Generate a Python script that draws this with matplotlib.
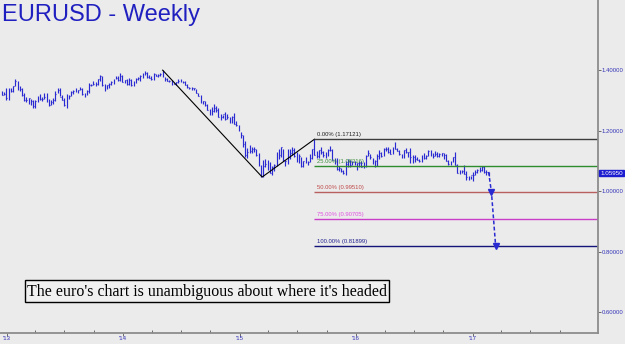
import matplotlib
matplotlib.use('Agg')
import matplotlib.pyplot as plt
import matplotlib.dates as mdates
import pandas as pd
from matplotlib.patches import Rectangle

# ---------------- data ----------------
first_week = '2012-12-17'
highs = [
    1.3300, 1.3260,
    1.3390, 1.3400, 1.3400, 1.3480, 1.3710, 1.3640, 1.3480, 1.3420, 1.3250, 1.3110, 1.3080, 1.3050, 1.3020,
    1.3000, 1.3140, 1.3200, 1.3100, 1.3240, 1.3240, 1.3030, 1.3000, 1.3060, 1.3310, 1.3390, 1.3420, 1.3170,
    1.3070, 1.3210, 1.3190, 1.3300, 1.3350, 1.3410, 1.3350, 1.3450, 1.3420, 1.3230, 1.3340, 1.3560, 1.3540,
    1.3620, 1.3610, 1.3700, 1.3830, 1.3810, 1.3530, 1.3500, 1.3580, 1.3620, 1.3710, 1.3810, 1.3810, 1.3890,
    1.3830,
    1.3680, 1.3700, 1.3740, 1.3700, 1.3620, 1.3720, 1.3770, 1.3830, 1.3910, 1.3970, 1.3950, 1.3840, 1.3810,
    1.3900, 1.3880, 1.3860, 1.3890, 1.3995, 1.3780, 1.3730, 1.3680, 1.3680, 1.3580, 1.3610, 1.3690, 1.3700,
    1.3640, 1.3630, 1.3530, 1.3450, 1.3440, 1.3420, 1.3370, 1.3240, 1.3160, 1.2990, 1.2990, 1.2860, 1.2720,
    1.2790, 1.2890, 1.2800, 1.2760, 1.2540, 1.2510, 1.2600, 1.2530, 1.2460, 1.2480, 1.2570, 1.2300, 1.2190,
    1.1960, 1.1840, 1.1640, 1.1420, 1.1530, 1.1460, 1.1450, 1.1390, 1.1240, 1.0870, 1.1040, 1.1050, 1.1040,
    1.0970, 1.0820, 1.0880, 1.1290, 1.1390, 1.1470, 1.1390, 1.1010, 1.1380, 1.1390, 1.1440, 1.1410, 1.1280,
    1.1210, 1.1120, 1.1000, 1.1130, 1.1000, 1.1210, 1.1390, 1.1712, 1.1330, 1.1370, 1.1460, 1.1330, 1.1290,
    1.1390, 1.1490, 1.1380, 1.1100, 1.1100, 1.0830, 1.0770, 1.0690, 1.0980, 1.1050, 1.1040, 1.0990, 1.0990,
    1.0930, 1.0990, 1.0990, 1.0960, 1.1200, 1.1370, 1.1230, 1.1080, 1.1010, 1.1210, 1.1340, 1.1290, 1.1410,
    1.1450, 1.1460, 1.1390, 1.1450, 1.1610, 1.1430, 1.1340, 1.1220, 1.1370, 1.1420, 1.1300, 1.1430, 1.1190,
    1.1180, 1.1120, 1.1060, 1.1200, 1.1240, 1.1180, 1.1370, 1.1350, 1.1260, 1.1330, 1.1280, 1.1260, 1.1260,
    1.1250, 1.1210, 1.1030, 1.0990, 1.1140, 1.1300, 1.0880, 1.0710, 1.0700, 1.0870, 1.0670, 1.0480, 1.0500,
    1.0630, 1.0680, 1.0720, 1.0780, 1.0830, 1.0830, 1.0680, 1.0630,
]
lows = [
    1.3160, 1.3160,
    1.3000, 1.3000, 1.3260, 1.3260, 1.3460, 1.3350, 1.3310, 1.3150, 1.2970, 1.2950, 1.2880, 1.2840, 1.2750,
    1.2745, 1.2950, 1.3000, 1.2960, 1.3030, 1.2950, 1.2800, 1.2830, 1.2880, 1.2980, 1.3250, 1.3130, 1.3000,
    1.2800, 1.2750, 1.3040, 1.3140, 1.3200, 1.3260, 1.3250, 1.3330, 1.3180, 1.3100, 1.3180, 1.3250, 1.3460,
    1.3490, 1.3480, 1.3490, 1.3650, 1.3480, 1.3300, 1.3370, 1.3400, 1.3520, 1.3540, 1.3700, 1.3630, 1.3650,
    1.3590,
    1.3570, 1.3520, 1.3520, 1.3480, 1.3480, 1.3570, 1.3680, 1.3640, 1.3730, 1.3840, 1.3750, 1.3720, 1.3670,
    1.3680, 1.3790, 1.3780, 1.3800, 1.3760, 1.3650, 1.3620, 1.3590, 1.3500, 1.3530, 1.3520, 1.3580, 1.3600,
    1.3570, 1.3500, 1.3420, 1.3360, 1.3330, 1.3340, 1.3240, 1.3130, 1.2920, 1.2860, 1.2810, 1.2680, 1.2500,
    1.2500, 1.2620, 1.2610, 1.2440, 1.2360, 1.2400, 1.2360, 1.2390, 1.2250, 1.2250, 1.2220, 1.2160, 1.2000,
    1.1750, 1.1460, 1.1110, 1.1100, 1.1260, 1.1270, 1.1300, 1.1170, 1.0840, 1.0460, 1.0460, 1.0810, 1.0710,
    1.0600, 1.0520, 1.0660, 1.0840, 1.1050, 1.1140, 1.0990, 1.0820, 1.0880, 1.1050, 1.1200, 1.1130, 1.0960,
    1.0920, 1.0810, 1.0800, 1.0920, 1.0850, 1.0950, 1.1060, 1.1180, 1.1090, 1.1090, 1.1230, 1.1110, 1.1100,
    1.1160, 1.1330, 1.1010, 1.0900, 1.0700, 1.0670, 1.0620, 1.0560, 1.0520, 1.0800, 1.0800, 1.0860, 1.0860,
    1.0710, 1.0800, 1.0780, 1.0770, 1.0810, 1.1160, 1.1070, 1.0900, 1.0810, 1.0820, 1.1050, 1.1140, 1.1160,
    1.1330, 1.1260, 1.1220, 1.1220, 1.1380, 1.1310, 1.1180, 1.1100, 1.1100, 1.1270, 1.1130, 1.0910, 1.0910,
    1.0950, 1.1020, 1.0950, 1.0950, 1.1060, 1.1050, 1.1160, 1.1160, 1.1100, 1.1150, 1.1120, 1.1120, 1.1160,
    1.1060, 1.0990, 1.0860, 1.0850, 1.0960, 1.0850, 1.0580, 1.0570, 1.0580, 1.0560, 1.0360, 1.0350, 1.0400,
    1.0340, 1.0520, 1.0580, 1.0620, 1.0660, 1.0600, 1.0520, 1.0500,
]
closes = [
    1.3180, 1.3220,
    1.3070, 1.3350, 1.3300, 1.3460, 1.3640, 1.3360, 1.3360, 1.3190, 1.3020, 1.3000, 1.3070, 1.2990, 1.2820,
    1.2990, 1.3110, 1.3040, 1.3030, 1.3110, 1.2990, 1.2830, 1.2930, 1.3000, 1.3220, 1.3340, 1.3120, 1.3010,
    1.2830, 1.3070, 1.3140, 1.3280, 1.3290, 1.3340, 1.3330, 1.3380, 1.3220, 1.3180, 1.3290, 1.3520, 1.3520,
    1.3550, 1.3550, 1.3690, 1.3800, 1.3490, 1.3370, 1.3500, 1.3550, 1.3590, 1.3700, 1.3740, 1.3670, 1.3800,
    1.3590,
    1.3670, 1.3540, 1.3680, 1.3490, 1.3600, 1.3690, 1.3740, 1.3800, 1.3870, 1.3910, 1.3780, 1.3750, 1.3700,
    1.3880, 1.3810, 1.3830, 1.3870, 1.3760, 1.3700, 1.3630, 1.3630, 1.3640, 1.3540, 1.3610, 1.3650, 1.3600,
    1.3600, 1.3520, 1.3430, 1.3420, 1.3410, 1.3400, 1.3240, 1.3130, 1.2950, 1.2960, 1.2830, 1.2680, 1.2520,
    1.2630, 1.2760, 1.2670, 1.2450, 1.2450, 1.2530, 1.2390, 1.2450, 1.2290, 1.2460, 1.2230, 1.2190, 1.2000,
    1.1840, 1.1560, 1.1200, 1.1290, 1.1320, 1.1390, 1.1380, 1.1190, 1.0840, 1.0500, 1.0820, 1.0890, 1.0970,
    1.0600, 1.0810, 1.0870, 1.1200, 1.1200, 1.1450, 1.1010, 1.0990, 1.1110, 1.1260, 1.1350, 1.1170, 1.1100,
    1.1160, 1.0830, 1.0980, 1.0980, 1.0970, 1.1100, 1.1390, 1.1180, 1.1150, 1.1340, 1.1300, 1.1200, 1.1210,
    1.1360, 1.1350, 1.1020, 1.1000, 1.0740, 1.0770, 1.0650, 1.0590, 1.0880, 1.0990, 1.0860, 1.0960, 1.0870,
    1.0920, 1.0920, 1.0800, 1.0830, 1.1150, 1.1250, 1.1130, 1.0930, 1.1000, 1.1150, 1.1270, 1.1160, 1.1390,
    1.1400, 1.1290, 1.1230, 1.1450, 1.1400, 1.1310, 1.1220, 1.1110, 1.1370, 1.1290, 1.1280, 1.1120, 1.1140,
    1.1050, 1.1040, 1.0980, 1.1170, 1.1090, 1.1160, 1.1330, 1.1190, 1.1150, 1.1230, 1.1150, 1.1230, 1.1240,
    1.1200, 1.0990, 1.0890, 1.0980, 1.1140, 1.0850, 1.0590, 1.0590, 1.0660, 1.0560, 1.0450, 1.0460, 1.0520,
    1.0530, 1.0640, 1.0700, 1.0690, 1.0780, 1.0620, 1.0620, 1.0595,
]
last_price = 1.05950

fib_pcts = ['0.00%', '25.00%', '50.00%', '75.00%', '100.00%']
fib_levels = [1.17121, 1.08316, 0.99510, 0.90705, 0.81899]
fib_start = '2015-08-24'

trend_dates = ['2014-05-05', '2015-03-13', '2015-08-24']
trend_prices = [1.3995, 1.0462, 1.17121]

arrow_dates = ['2017-02-20', '2017-03-01', '2017-03-14']
arrow_prices = [1.0630, 0.9951, 0.8190]

y_ticks = [0.6, 0.8, 1.0, 1.2, 1.4]
year_ticks = [2013, 2014, 2015, 2016, 2017]
year_labels = ["'13", "'14", "'15", "'16", "'17"]

title = 'EURUSD - Weekly'
caption = "The euro's chart is unambiguous about where it's headed"

# ---------------- style ----------------
BG = '#ebebeb'
BAR = '#2a2ad2'
TXT_BLUE = '#3434b8'
fib_line_colors = ['#3c3c3c', '#2e8b2e', '#b86060', '#c83cc8', '#14147a']
fib_text_colors = ['#202020', '#3a8f3a', '#c04848', '#e050e0', '#202090']

fig = plt.figure(figsize=(6.25, 3.44), dpi=100, facecolor=BG)
ax = fig.add_axes([0, 11 / 344, 598 / 625, 333 / 344], facecolor=BG)

dn = lambda s: mdates.date2num(pd.Timestamp(s).to_pydatetime())

dates = pd.date_range(first_week, periods=len(highs), freq='7D')
x = mdates.date2num(dates.to_pydatetime())

ax.vlines(x, lows, highs, color=BAR, lw=0.85)
ax.hlines(closes, x, x + 2.6, color=BAR, lw=0.8)

# trend lines
ax.plot([dn(d) for d in trend_dates], trend_prices, color='black', lw=0.8)

xlim_right = dn('2018-01-29')
xlim_left = dn('2012-12-11')

# fib lines and labels
xs = dn(fib_start)
for p, lvl, lc, tc in zip(fib_pcts, fib_levels, fib_line_colors, fib_text_colors):
    ax.hlines(lvl, xs, xlim_right, color=lc, lw=1.0)
    ax.annotate(f'{p} ({lvl:.5f})', (xs, lvl), xytext=(1.5, 1.5), textcoords='offset points',
                fontsize=4.2, color=tc, family='Liberation Sans', va='bottom', ha='left')

# projection arrow
ax_x = [dn(d) for d in arrow_dates]
ax.plot(ax_x, arrow_prices, ls=(0, (2.5, 1.5)), color=BAR, lw=1.1)
ax.plot(ax_x[1:], arrow_prices[1:], ls='none', marker='v', ms=4.6, color=BAR)

ax.set_xlim(xlim_left, xlim_right)
ax.set_ylim(0.5306, 1.6314)

# axes
for s in ['top', 'left']:
    ax.spines[s].set_visible(False)
for s in ['right', 'bottom']:
    ax.spines[s].set_color('#8c8c8c')
    ax.spines[s].set_linewidth(1.3)

ax.yaxis.tick_right()
ax.set_yticks(y_ticks)
ax.set_yticklabels([f'{v:.5f}' for v in y_ticks])
ax.tick_params(axis='y', length=2, width=0.6, color='#555555', pad=0.5,
               labelsize=4.3, labelcolor=TXT_BLUE)

ax.set_xticks([dn(f'{y}-01-01') for y in year_ticks])
ax.set_xticklabels(year_labels)
minor = [dn(f'{y}-{m:02d}-01') for y in range(2013, 2018) for m in (4, 7, 10)]
ax.set_xticks(minor, minor=True)
ax.tick_params(axis='x', which='major', length=2, width=0.6, color='#555555', pad=0.5,
               labelsize=4.3, labelcolor=TXT_BLUE)
ax.tick_params(axis='x', which='minor', length=2, width=0.6, color='#555555', direction='in')
for lab in ax.get_xticklabels() + ax.get_yticklabels():
    lab.set_family('Liberation Sans')

# last price tag
ax.text(1.004, last_price, f'{last_price:.5f}', transform=ax.get_yaxis_transform(),
        fontsize=4.5, color='white', family='Liberation Sans', va='center', ha='left',
        bbox=dict(boxstyle='square,pad=0.15', fc='#1c1cd0', ec='#1c1cd0'))

# title
fig.text(2 / 625, 1 - 21 / 344, title, fontsize=17, color='#2020c0',
         family='Liberation Sans', va='baseline', ha='left')

# caption box
fig.patches.append(Rectangle((25 / 625, 1 - 302 / 344), 364 / 625, 22 / 344,
                             transform=fig.transFigure, fc='#f0f0f0', ec='black', lw=1.0))
fig.text(207 / 625, 1 - 291.5 / 344, caption, fontsize=11.4, color='black',
         family='Liberation Serif', va='center', ha='center')

fig.savefig('out.png', dpi=100, facecolor=BG)
